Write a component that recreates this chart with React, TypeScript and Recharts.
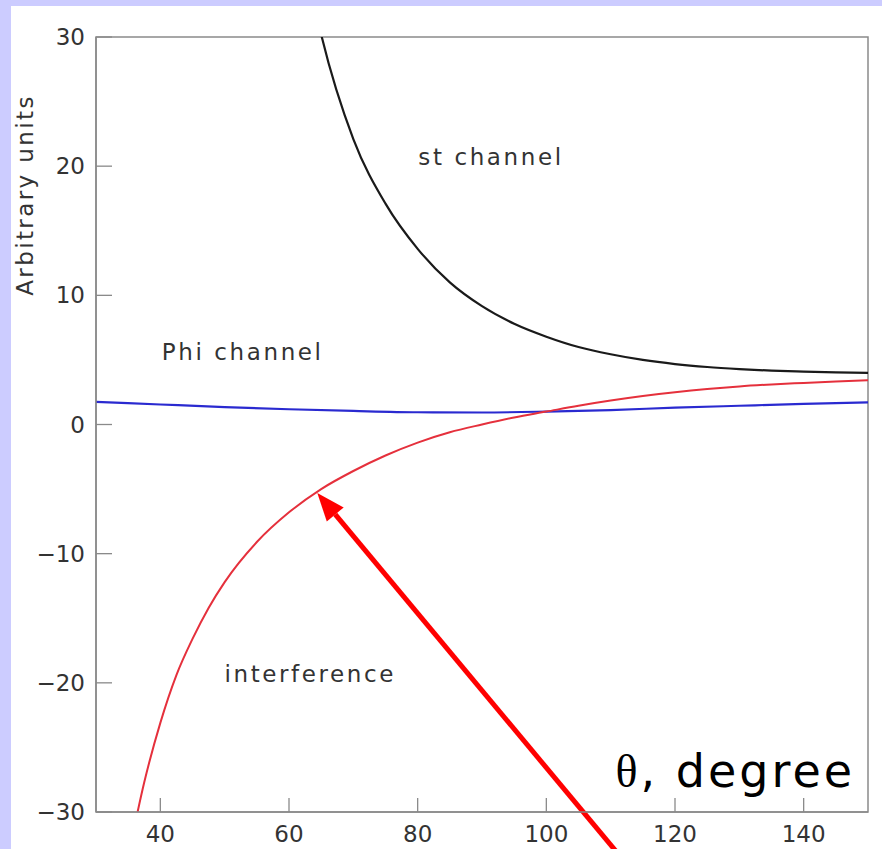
import {
  Line,
  LineChart,
  ReferenceArea,
  ReferenceDot,
  ReferenceLine,
  XAxis,
  YAxis,
} from "recharts";

// st channel (black)
const stTheta = [60, 65, 70, 75, 80, 85, 90, 95, 100, 105, 110, 115, 120, 125, 130, 135, 140, 145, 150];
const stValue = [42.8, 30.2, 22.1, 17.1, 13.6, 11.0, 9.16, 7.8, 6.8, 6.0, 5.44, 5.0, 4.68, 4.45, 4.29, 4.17, 4.09, 4.03, 4.0];

// Phi channel (blue)
const phiTheta = [30, 40, 50, 60, 70, 80, 90, 100, 110, 120, 130, 140, 150];
const phiValue = [1.75, 1.55, 1.35, 1.18, 1.05, 0.95, 0.93, 1.0, 1.12, 1.3, 1.45, 1.6, 1.72];

// interference (red)
const intTheta = [35, 37.5, 40, 42.5, 45, 47.5, 50, 55, 60, 65, 70, 75, 80, 85, 90, 95, 100, 105, 110, 115, 120, 125, 130, 135, 140, 145, 150];
const intValue = [-33.5, -27.7, -23.1, -19.4, -16.6, -14.2, -12.2, -9.1, -6.8, -5.0, -3.6, -2.4, -1.4, -0.6, 0.0, 0.55, 1.0, 1.45, 1.85, 2.2, 2.5, 2.75, 2.95, 3.1, 3.22, 3.33, 3.43];

const xTicks = [40, 60, 80, 100, 120, 140];
const yTicks = [-30, -20, -10, 0, 10, 20, 30];

// annotation arrow, tail -> tip (data coords)
const arrowTail = { x: 111.6, y: -33.5 };
const arrowTip = { x: 64.4, y: -5.3 };

const stData = stTheta.map((t, i) => ({ theta: t, v: stValue[i] }));
const phiData = phiTheta.map((t, i) => ({ theta: t, v: phiValue[i] }));
const intData = intTheta.map((t, i) => ({ theta: t, v: intValue[i] }));

const TEXT = "#333";
const FRAME = "#8a8a8a";

const fmt = (v: number) => (v < 0 ? `\u2212${Math.abs(v)}` : `${v}`);

function XTick({ x, y, payload }: any) {
  return (
    <g>
      <line x1={x} y1={y} x2={x} y2={y - 14} stroke={FRAME} strokeWidth={1.3} />
      <text x={x} y={y + 30} textAnchor="middle" fill={TEXT} fontSize={23}>
        {fmt(payload.value)}
      </text>
    </g>
  );
}

function YTick({ x, y, payload }: any) {
  return (
    <g>
      <line x1={x} y1={y} x2={x + 16} y2={y} stroke={FRAME} strokeWidth={1.3} />
      <text x={x - 11} y={y + 8} textAnchor="end" fill={TEXT} fontSize={23}>
        {fmt(payload.value)}
      </text>
    </g>
  );
}

function Arrow({ x1, y1, x2, y2 }: any) {
  const ang = Math.atan2(y2 - y1, x2 - x1);
  const len = 28;
  const half = 11;
  const bx = x2 - len * Math.cos(ang);
  const by = y2 - len * Math.sin(ang);
  const nx = -Math.sin(ang);
  const ny = Math.cos(ang);
  return (
    <g>
      <line x1={x1} y1={y1} x2={bx} y2={by} stroke="#ff0000" strokeWidth={5} />
      <polygon
        points={`${x2},${y2} ${bx + nx * half},${by + ny * half} ${bx - nx * half},${by - ny * half}`}
        fill="#ff0000"
      />
    </g>
  );
}

const curveLabel = (value: string) => ({
  value,
  position: "center" as const,
  fill: TEXT,
  fontSize: 23,
  letterSpacing: 2.6,
});

export default function App() {
  return (
    <div style={{ position: "absolute", left: 0, top: 0, width: 882, height: 849, background: "#ccccff" }}>
      <div style={{ position: "absolute", left: 11, top: 6, right: 0, bottom: 0, background: "#fff" }} />
      <div style={{ position: "absolute", left: 0, top: 0 }}>
        <LineChart
          width={882}
          height={849}
          margin={{ top: 37, right: 14, bottom: 0, left: 0 }}
          style={{ fontFamily: "DejaVu Sans, sans-serif" }}
        >
          <XAxis
            type="number"
            dataKey="theta"
            domain={[30, 150]}
            ticks={xTicks}
            allowDataOverflow
            height={37}
            tickSize={0}
            tickMargin={0}
            tickLine={false}
            axisLine={{ stroke: FRAME, strokeWidth: 1.5 }}
            tick={<XTick />}
            label={{
              content: () => (
                <text x={855} y={787} textAnchor="end" fill="#000" fontSize={46} letterSpacing={3}>
                  <tspan fontFamily="Liberation Serif, serif">θ</tspan>
                  <tspan>, degree</tspan>
                </text>
              ),
            }}
          />
          <YAxis
            type="number"
            dataKey="v"
            domain={[-30, 30]}
            ticks={yTicks}
            allowDataOverflow
            width={96}
            tickSize={0}
            tickMargin={0}
            tickLine={false}
            axisLine={{ stroke: FRAME, strokeWidth: 1.5 }}
            tick={<YTick />}
            label={{
              content: () => (
                <text
                  x={33}
                  y={195}
                  transform="rotate(-90 33 195)"
                  textAnchor="middle"
                  fill={TEXT}
                  fontSize={23}
                  letterSpacing={2.4}
                >
                  Arbitrary units
                </text>
              ),
            }}
          />
          <ReferenceArea x1={30} x2={150} y1={-30} y2={30} fill="none" stroke={FRAME} strokeWidth={1.5} />
          <Line data={phiData} dataKey="v" type="monotone" stroke="#2a2ad0" strokeWidth={2.2} dot={false} isAnimationActive={false} />
          <Line data={intData} dataKey="v" type="monotone" stroke="#e5303c" strokeWidth={2} dot={false} isAnimationActive={false} />
          <Line data={stData} dataKey="v" type="monotone" stroke="#1a1a1a" strokeWidth={2.2} dot={false} isAnimationActive={false} />
          <ReferenceDot x={91.4} y={20.7} r={0} stroke="none" fill="none" label={curveLabel("st channel")} />
          <ReferenceDot x={52.8} y={5.6} r={0} stroke="none" fill="none" label={curveLabel("Phi channel")} />
          <ReferenceDot x={63.3} y={-19.3} r={0} stroke="none" fill="none" label={curveLabel("interference")} />
          <ReferenceLine segment={[arrowTail, arrowTip]} ifOverflow="visible" shape={(p: any) => <Arrow {...p} />} />
        </LineChart>
      </div>
    </div>
  );
}
